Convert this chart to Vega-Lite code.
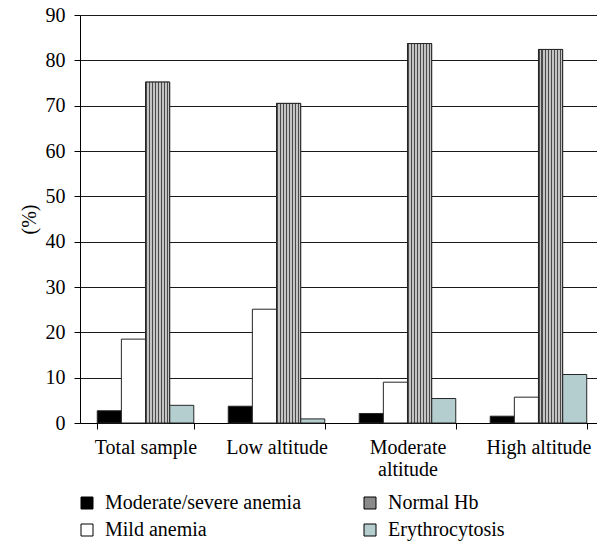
{
  "$schema": "https://vega.github.io/schema/vega-lite/v6.json",
  "autosize": "none",
  "padding": {"left": 80, "top": 15, "right": 0, "bottom": 119},
  "width": 517,
  "height": 408,
  "background": "white",
  "config": {
    "view": {"stroke": null},
    "font": "Liberation Serif, serif",
    "axis": {"labelFont": "Liberation Serif, serif", "titleFont": "Liberation Serif, serif", "labelColor": "#000", "titleColor": "#000", "titleFontWeight": "normal"},
    "legend": {"labelFont": "Liberation Serif, serif", "labelColor": "#000"}
  },
  "data": {
    "values": [
      {"group": "Total sample", "status": "Moderate/severe anemia", "pct": 2.7},
      {"group": "Total sample", "status": "Mild anemia", "pct": 18.5},
      {"group": "Total sample", "status": "Normal Hb", "pct": 75.2},
      {"group": "Total sample", "status": "Erythrocytosis", "pct": 3.9},
      {"group": "Low altitude", "status": "Moderate/severe anemia", "pct": 3.7},
      {"group": "Low altitude", "status": "Mild anemia", "pct": 25.1},
      {"group": "Low altitude", "status": "Normal Hb", "pct": 70.5},
      {"group": "Low altitude", "status": "Erythrocytosis", "pct": 0.9},
      {"group": "Moderate altitude", "status": "Moderate/severe anemia", "pct": 2.1},
      {"group": "Moderate altitude", "status": "Mild anemia", "pct": 9.0},
      {"group": "Moderate altitude", "status": "Normal Hb", "pct": 83.7},
      {"group": "Moderate altitude", "status": "Erythrocytosis", "pct": 5.4},
      {"group": "High altitude", "status": "Moderate/severe anemia", "pct": 1.5},
      {"group": "High altitude", "status": "Mild anemia", "pct": 5.7},
      {"group": "High altitude", "status": "Normal Hb", "pct": 82.4},
      {"group": "High altitude", "status": "Erythrocytosis", "pct": 10.7}
    ]
  },
  "encoding": {
    "x": {
      "field": "group",
      "type": "nominal",
      "sort": ["Total sample", "Low altitude", "Moderate altitude", "High altitude"],
      "scale": {"range": [0, 524], "paddingInner": 0.263, "paddingOuter": 0.1317},
      "axis": {
        "title": null,
        "labelAngle": 0,
        "labelFontSize": 20,
        "labelPadding": 8,
        "labelLineHeight": 22,
        "labelExpr": "datum.value == 'Moderate altitude' ? ['Moderate', 'altitude'] : datum.value",
        "tickBand": "extent",
        "tickSize": 6,
        "tickColor": "#000",
        "domainColor": "#000",
        "labelLimit": 0
      }
    },
    "xOffset": {
      "field": "status",
      "type": "nominal",
      "scale": {"domain": ["Moderate/severe anemia", "Mild anemia", "Normal Hb", "Erythrocytosis"], "paddingInner": 0, "paddingOuter": 0}
    },
    "y": {
      "field": "pct",
      "type": "quantitative",
      "scale": {"domain": [0, 90], "nice": false},
      "axis": {
        "title": "(%)",
        "titleFontSize": 20,
        "titlePadding": 6,
        "values": [0, 10, 20, 30, 40, 50, 60, 70, 80, 90],
        "labelFontSize": 20,
        "labelPadding": 9,
        "tickSize": 6,
        "tickColor": "#000",
        "domainColor": "#000",
        "gridColor": "#1a1a1a",
        "gridOpacity": 1,
        "grid": true
      }
    }
  },
  "layer": [
    {
      "mark": {"type": "bar", "stroke": "#262626", "strokeWidth": 1},
      "encoding": {
        "fill": {
          "field": "status",
          "type": "nominal",
          "scale": {
            "domain": ["Moderate/severe anemia", "Mild anemia", "Normal Hb", "Erythrocytosis"],
            "range": ["#000000", "#ffffff", "#8a8a8a", "#b4cdce"]
          },
          "legend": {
            "title": null,
            "orient": "none",
            "legendX": -3,
            "legendY": 478,
            "columns": 2,
            "columnPadding": 58,
            "rowPadding": 7,
            "symbolType": "square",
            "symbolSize": 144,
            "symbolStrokeColor": "#000",
            "symbolStrokeWidth": 1,
            "symbolOpacity": 1,
            "labelFontSize": 20,
            "labelOffset": 8,
            "labelLimit": 0,
            "padding": 0
          }
        }
      }
    },
    {
      "transform": [{"filter": "datum.status == 'Normal Hb'"}],
      "mark": {
        "type": "bar",
        "stroke": "#262626",
        "strokeWidth": 1,
        "fill": {"gradient": "linear", "x1": 0, "y1": 0, "x2": 1, "y2": 0, "stops": [
          {"offset": 0, "color": "#4a4a4a"}, {"offset": 0.0625, "color": "#4a4a4a"},
          {"offset": 0.0625, "color": "#c4c4c4"}, {"offset": 0.125, "color": "#c4c4c4"},
          {"offset": 0.125, "color": "#4a4a4a"}, {"offset": 0.1875, "color": "#4a4a4a"},
          {"offset": 0.1875, "color": "#c4c4c4"}, {"offset": 0.25, "color": "#c4c4c4"},
          {"offset": 0.25, "color": "#4a4a4a"}, {"offset": 0.3125, "color": "#4a4a4a"},
          {"offset": 0.3125, "color": "#c4c4c4"}, {"offset": 0.375, "color": "#c4c4c4"},
          {"offset": 0.375, "color": "#4a4a4a"}, {"offset": 0.4375, "color": "#4a4a4a"},
          {"offset": 0.4375, "color": "#c4c4c4"}, {"offset": 0.5, "color": "#c4c4c4"},
          {"offset": 0.5, "color": "#4a4a4a"}, {"offset": 0.5625, "color": "#4a4a4a"},
          {"offset": 0.5625, "color": "#c4c4c4"}, {"offset": 0.625, "color": "#c4c4c4"},
          {"offset": 0.625, "color": "#4a4a4a"}, {"offset": 0.6875, "color": "#4a4a4a"},
          {"offset": 0.6875, "color": "#c4c4c4"}, {"offset": 0.75, "color": "#c4c4c4"},
          {"offset": 0.75, "color": "#4a4a4a"}, {"offset": 0.8125, "color": "#4a4a4a"},
          {"offset": 0.8125, "color": "#c4c4c4"}, {"offset": 0.875, "color": "#c4c4c4"},
          {"offset": 0.875, "color": "#4a4a4a"}, {"offset": 0.9375, "color": "#4a4a4a"},
          {"offset": 0.9375, "color": "#c4c4c4"}, {"offset": 1, "color": "#c4c4c4"}
        ]}
      }
    }
  ]
}
